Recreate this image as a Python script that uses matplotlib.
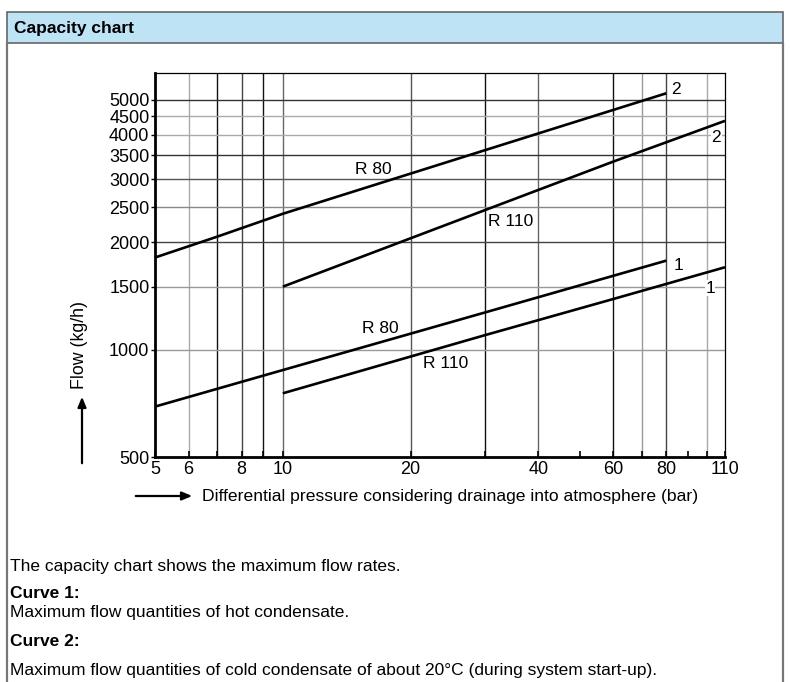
import matplotlib
matplotlib.use("Agg")
import matplotlib.pyplot as plt
from matplotlib.patches import Rectangle, FancyArrowPatch
from matplotlib.lines import Line2D

plt.rcParams['font.family'] = ['Liberation Sans', 'DejaVu Sans']

# --- data (pressure in bar, flow in kg/h) ---
r80_c2_x = [5, 7, 10, 30, 80]
r80_c2_y = [1810, 2070, 2400, 3620, 5220]
r110_c2_x = [10, 30, 60, 110]
r110_c2_y = [1500, 2460, 3360, 4370]
r80_c1_x = [5, 10, 30, 80]
r80_c1_y = [692, 876, 1271, 1774]
r110_c1_x = [10, 30, 60, 110]
r110_c1_y = [754, 1098, 1385, 1700]

x_ticks = [5, 6, 8, 10, 20, 40, 60, 80, 110]
x_minor = [7, 9, 30, 50, 70, 90, 100]
y_ticks = [500, 1000, 1500, 2000, 2500, 3000, 3500, 4000, 4500, 5000]

# grid lines (value, colour) - the original mixes dark and light rules
x_grid = [(6, '#aaaaaa'), (7, '#111111'), (8, '#444444'), (9, '#111111'),
          (10, '#666666'), (20, '#555555'), (30, '#111111'), (40, '#666666'),
          (60, '#111111'), (70, '#999999'), (80, '#444444'), (100, '#aaaaaa')]
y_grid = [(1000, '#999999'), (1500, '#999999'), (2000, '#444444'),
          (2500, '#888888'), (3000, '#555555'), (3500, '#333333'),
          (4000, '#aaaaaa'), (4500, '#aaaaaa'), (5000, '#333333')]

W, H = 790, 682
fig = plt.figure(figsize=(W / 100, H / 100), dpi=100)


def fx(px):
    return px / W


def fy(py):
    return 1 - py / H


# --- outer frame and header ---
fig.patches.append(Rectangle((fx(7), fy(43)), fx(783) - fx(7), fy(12) - fy(43),
                             transform=fig.transFigure, facecolor='#bee3f5',
                             edgecolor='#666666', linewidth=1.2, zorder=0))
fig.lines.append(Line2D([fx(7), fx(7)], [fy(43), 0], transform=fig.transFigure,
                        color='#777777', linewidth=1.6))
fig.lines.append(Line2D([fx(783), fx(783)], [fy(43), 0], transform=fig.transFigure,
                        color='#777777', linewidth=1.6))
fig.text(fx(14), fy(28), 'Capacity chart', fontweight='bold',
         fontsize=12.5, va='center', ha='left')

# --- chart ---
ax = fig.add_axes([fx(155), fy(457), fx(725) - fx(155), fy(73) - fy(457)])
ax.set_xscale('log')
ax.set_yscale('log')
ax.set_xlim(5, 110)
ax.set_ylim(500, 5950)

for xv, c in x_grid:
    ax.axvline(xv, color=c, linewidth=1.0, zorder=1)
for yv, c in y_grid:
    ax.axhline(yv, color=c, linewidth=1.0, zorder=1)

for xs, ys in [(r80_c2_x, r80_c2_y), (r110_c2_x, r110_c2_y),
               (r80_c1_x, r80_c1_y), (r110_c1_x, r110_c1_y)]:
    ax.plot(xs, ys, color='black', linewidth=1.9, solid_capstyle='butt', zorder=3)

lbl = dict(fontsize=12.5, va='center', zorder=4)
ax.text(16.3, 3184, 'R 80', ha='center', **lbl)
ax.text(30.35, 2290, 'R 110', ha='left',
        bbox=dict(facecolor='white', edgecolor='none', pad=0.5), **lbl)
ax.text(17.0, 1148, 'R 80', ha='center', **lbl)
ax.text(24.2, 911, 'R 110', ha='center', **lbl)
ax.text(84.5, 5366, '2', ha='center', **lbl)
ax.text(104.9, 3914, '2', ha='center',
        bbox=dict(facecolor='white', edgecolor='none', pad=0.5), **lbl)
ax.text(85.7, 1714, '1', ha='center', **lbl)
ax.text(101.5, 1487, '1', ha='center',
        bbox=dict(facecolor='white', edgecolor='none', pad=0.3), **lbl)

ax.set_xticks(x_ticks)
ax.set_xticklabels([str(v) for v in x_ticks])
ax.set_xticks(x_minor, minor=True)
ax.set_xticklabels([], minor=True)
ax.set_yticks(y_ticks)
ax.set_yticklabels([str(v) for v in y_ticks])
ax.set_yticks([], minor=True)
ax.tick_params(axis='x', which='both', direction='in', length=4, width=1.2,
               labelsize=13, pad=3)
ax.tick_params(axis='y', which='both', direction='out', length=3, width=1.0,
               labelsize=13, pad=1)

for side in ['left', 'bottom']:
    ax.spines[side].set_linewidth(2.0)
for side in ['top', 'right']:
    ax.spines[side].set_linewidth(0.9)
for s in ax.spines.values():
    s.set_zorder(5)

# axis titles with arrows
fig.text(fx(79), fy(345), 'Flow (kg/h)', rotation=90,
         fontsize=12.8, ha='center', va='center')
fig.patches.append(FancyArrowPatch(
    (fx(82), fy(466)), (fx(82), fy(394)), transform=fig.transFigure,
    arrowstyle='-|>,head_length=6,head_width=2.5', color='black', linewidth=1.6))
fig.text(fx(202), fy(496), 'Differential pressure considering drainage into atmosphere (bar)',
         fontsize=12.6, ha='left', va='center')
fig.patches.append(FancyArrowPatch(
    (fx(133), fy(496)), (fx(195), fy(496)), transform=fig.transFigure,
    arrowstyle='-|>,head_length=6,head_width=2.5', color='black', linewidth=1.6))

# --- notes ---
notes = [
    (566, 'The capacity chart shows the maximum flow rates.', 'normal'),
    (593, 'Curve 1:', 'bold'),
    (612, 'Maximum flow quantities of hot condensate.', 'normal'),
    (641, 'Curve 2:', 'bold'),
    (671, 'Maximum flow quantities of cold condensate of about 20°C (during system start-up).', 'normal'),
]
for py, txt, wt in notes:
    fig.text(fx(10), fy(py), txt, fontsize=12.5, fontweight=wt,
             ha='left', va='center')

fig.savefig('out.png', dpi=100)
